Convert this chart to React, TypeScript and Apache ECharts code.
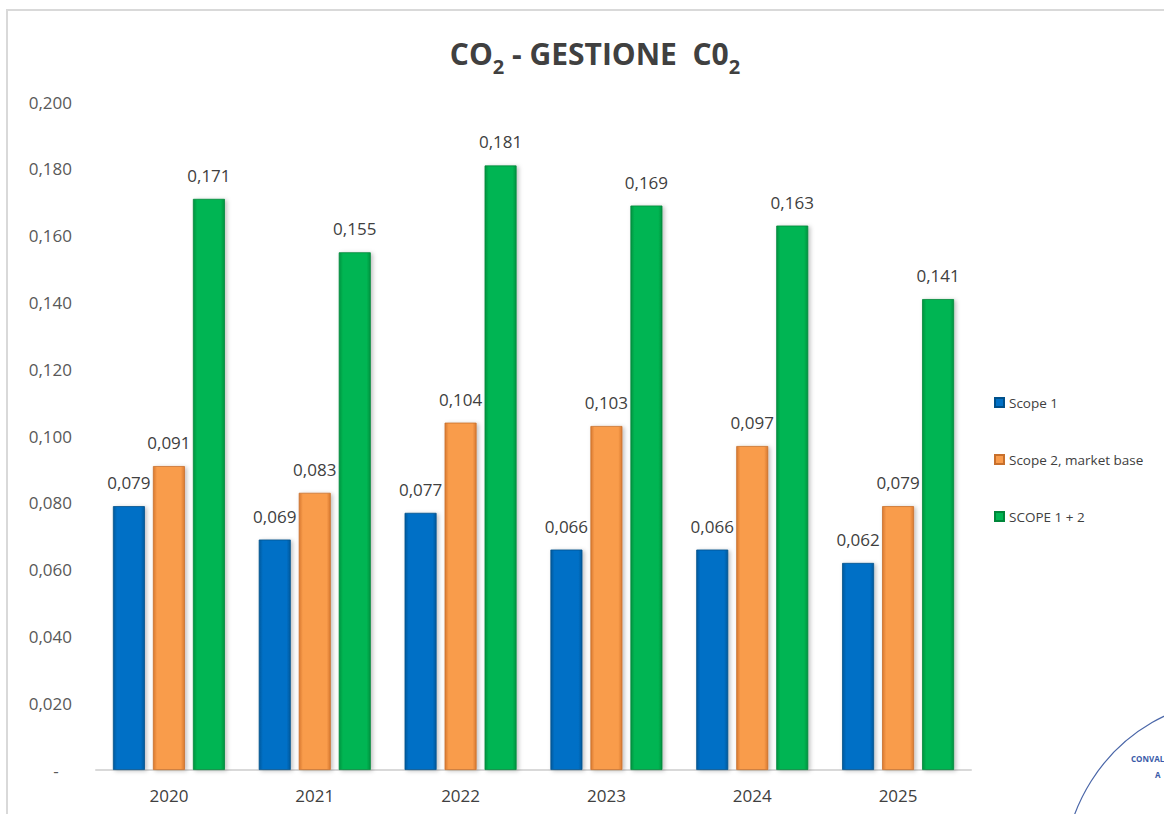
import React, { useEffect, useRef } from "react";
import * as echarts from "echarts";

const categories = ["2020", "2021", "2022", "2023", "2024", "2025"];
const scope1 = [0.079, 0.069, 0.077, 0.066, 0.066, 0.062];
const scope2 = [0.091, 0.083, 0.104, 0.103, 0.097, 0.079];
const scopeTotal = [0.171, 0.155, 0.181, 0.169, 0.163, 0.141];
const seriesNames = ["Scope 1", "Scope 2, market base", "SCOPE 1 + 2"];

const FONT = "'Open Sans', 'Noto Sans', sans-serif";

function fmt(v: number): string {
  if (Math.abs(v) < 1e-9) return "-   ";
  return v.toFixed(3).replace(".", ",");
}

function barGradient(edge: string, mid: string) {
  return new echarts.graphic.LinearGradient(0, 0, 1, 0, [
    { offset: 0, color: edge },
    { offset: 0.12, color: mid },
    { offset: 0.88, color: mid },
    { offset: 1, color: edge },
  ]);
}

export default function App() {
  const ref = useRef<HTMLDivElement>(null);
  useEffect(() => {
    document.body.style.margin = "0";
    document.body.style.overflow = "hidden";
    if (!ref.current) return;
    const chart = echarts.init(ref.current, undefined, { renderer: "svg" });
    const palette = [
      { edge: "#005a9e", mid: "#0070c6", border: "#00508a" },
      { edge: "#d97a30", mid: "#f99c4c", border: "#c8702c" },
      { edge: "#009440", mid: "#00b552", border: "#00863a" },
    ];
    const datas = [scope1, scope2, scopeTotal];
    chart.setOption({
      animation: false,
      backgroundColor: "#ffffff",
      textStyle: { fontFamily: FONT },
      title: {
        text: "{a|CO}{s|2}{a| - GESTIONE  C0}{s|2}",
        left: 590,
        textAlign: "center",
        top: 19,
        textStyle: {
          rich: {
            a: {
              fontFamily: FONT,
              fontWeight: "bold",
              fontSize: 30,
              color: "#404040",
              lineHeight: 44,
              verticalAlign: "bottom",
            },
            s: {
              fontFamily: FONT,
              fontWeight: "bold",
              fontSize: 20,
              color: "#404040",
              lineHeight: 44,
              verticalAlign: "bottom",
              padding: [0, 0, -8, 0],
            },
          },
        },
      },
      legend: {
        orient: "vertical",
        left: 989,
        top: 389,
        itemWidth: 9,
        itemHeight: 9,
        itemGap: 40,
        icon: "rect",
        textStyle: { fontFamily: FONT, fontSize: 13.5, color: "#404040", lineHeight: 17 },
        data: seriesNames,
      },
      grid: { left: 96, right: 193, top: 102, bottom: 44, containLabel: false },
      xAxis: {
        type: "category",
        data: categories,
        axisLine: { lineStyle: { color: "#d9d9d9", width: 2 } },
        axisTick: { show: false },
        axisLabel: { fontFamily: FONT, fontSize: 17, color: "#404040", margin: 17 },
      },
      yAxis: {
        type: "value",
        min: 0,
        max: 0.2,
        interval: 0.02,
        axisLine: { show: false },
        axisTick: { show: false },
        splitLine: { show: false },
        axisLabel: {
          fontFamily: FONT,
          fontSize: 17,
          color: "#595959",
          margin: 24,
          formatter: (v: number) => fmt(v),
        },
      },
      series: datas.map((d, i) => ({
        name: seriesNames[i],
        type: "bar",
        data: d,
        barWidth: 32,
        barGap: "25%",
        itemStyle: {
          color: barGradient(palette[i].edge, palette[i].mid),
          borderColor: palette[i].border,
          borderWidth: 0.8,
          shadowColor: "rgba(0,0,0,0.25)",
          shadowBlur: 4,
          shadowOffsetX: 2,
          shadowOffsetY: 1,
        },
        label: {
          show: true,
          position: "top",
          distance: 15,
          fontFamily: FONT,
          fontSize: 17,
          color: "#404040",
          formatter: (p: any) => fmt(p.value),
        },
      })),
      graphic: [
        {
          type: "rect",
          silent: true,
          shape: { x: 7, y: 10, width: 1300, height: 1000 },
          style: { fill: "none", stroke: "#d9d9d9", lineWidth: 2 },
        },
        {
          type: "circle",
          silent: true,
          shape: { cx: 1240, cy: 875, r: 176 },
          style: { fill: "none", stroke: "#4a66a8", lineWidth: 1.2 },
        },
        {
          type: "text",
          silent: true,
          x: 1131,
          y: 754,
          style: {
            text: "CONVAL",
            fontFamily: FONT,
            fontWeight: "bold",
            fontSize: 8,
            fill: "#3a5aa8",
          },
        },
        {
          type: "text",
          silent: true,
          x: 1155,
          y: 770,
          style: {
            text: "A",
            fontFamily: FONT,
            fontWeight: "bold",
            fontSize: 8,
            fill: "#3a5aa8",
          },
        },
      ],
    });
    return () => chart.dispose();
  }, []);
  return <div ref={ref} style={{ width: 1164, height: 814 }} />;
}
